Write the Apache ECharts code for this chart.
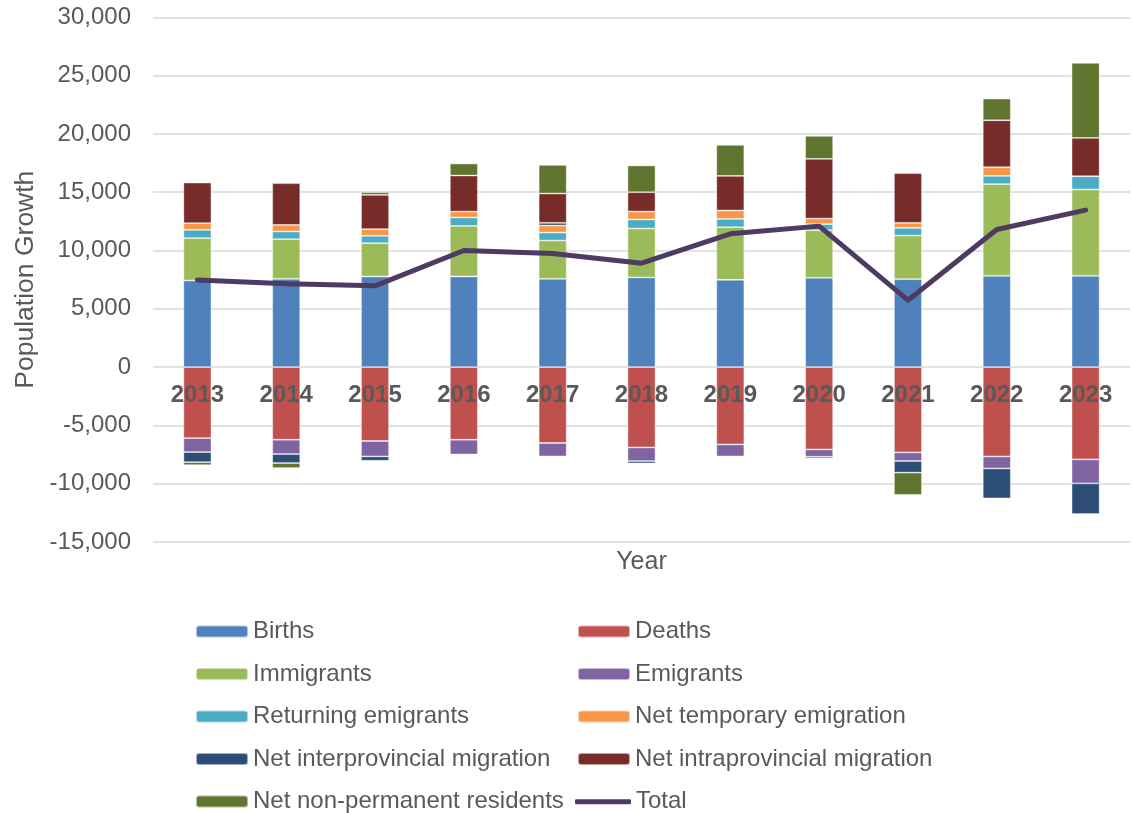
<!DOCTYPE html>
<html>
<head>
<meta charset="utf-8">
<title>Population Growth by Component</title>
<script src="https://cdn.jsdelivr.net/npm/echarts@6/dist/echarts.min.js"></script>
<style>
  html, body { margin: 0; padding: 0; background: #fff; }
  #chart { width: 1132px; height: 813px; }
</style>
</head>
<body>
<div id="chart"></div>
<script>
// Components of population growth, by year
const years = ['2013', '2014', '2015', '2016', '2017', '2018', '2019', '2020', '2021', '2022', '2023'];
const births = [7430, 7570, 7770, 7770, 7570, 7690, 7490, 7660, 7540, 7830, 7830];
const deaths = [-6090, -6230, -6340, -6230, -6510, -6890, -6630, -7060, -7310, -7660, -7910];
const immigrants = [3630, 3400, 2860, 4340, 3290, 4200, 4510, 4080, 3740, 7860, 7400];
const emigrants = [-1200, -1230, -1320, -1260, -1150, -1170, -1030, -630, -740, -1030, -2060];
const returningEmigrants = [710, 660, 630, 720, 680, 770, 710, 520, 660, 710, 1140];
const netTemporaryEmigration = [570, 570, 570, 510, 600, 680, 720, 480, 430, 740, 0];
const netInterprovincial = [-860, -770, -370, 0, 230, -200, 0, -140, -1000, -2570, -2630];
const netIntraprovincial = [3490, 3570, 2940, 3090, 2520, 1660, 2970, 5120, 4260, 4030, 3290];
const netNonPermanent = [-260, -430, 230, 1030, 2450, 2290, 2660, 1970, -1910, 1860, 6430];
const total = [7480, 7140, 6970, 10000, 9740, 8910, 11430, 12090, 5740, 11800, 13460];

const yTicks = { min: -15000, max: 30000, step: 5000 };

const textColor = '#595959';
const font = '"Liberation Sans", Arial, sans-serif';
const totalColor = '#4D3B62';

// Plot box (pixels) and the offset that lifts the year labels up to the zero line
const plotTop = 17.3;
const plotBottom = 271;
const chartHeight = 813;
const zeroShift = (chartHeight - plotBottom - plotTop) * (0 - yTicks.min) / (yTicks.max - yTicks.min);

const barDefs = [
  ['Births', births, '#4F81BD'],
  ['Deaths', deaths, '#C0504D'],
  ['Immigrants', immigrants, '#9BBB59'],
  ['Emigrants', emigrants, '#8064A2'],
  ['Returning emigrants', returningEmigrants, '#4BACC6'],
  ['Net temporary emigration', netTemporaryEmigration, '#F79646'],
  ['Net interprovincial migration', netInterprovincial, '#2C4D75'],
  ['Net intraprovincial migration', netIntraprovincial, '#772C2A'],
  ['Net non-permanent residents', netNonPermanent, '#5F7530']
];

const barSeries = barDefs.map(([name, data, color]) => ({
  name: name,
  type: 'bar',
  stack: 'growth',
  stackStrategy: 'samesign',
  barWidth: 28,
  data: data,
  itemStyle: { color: color, borderColor: 'rgba(255,255,255,0.55)', borderWidth: 0.8 },
  emphasis: { disabled: true },
  z: 2
}));

const lineSeries = {
  name: 'Total',
  type: 'line',
  data: total,
  symbol: 'none',
  lineStyle: { color: totalColor, width: 5, cap: 'round', join: 'round' },
  itemStyle: { color: totalColor },
  emphasis: { disabled: true },
  z: 5
};

// Two legend columns plus a separate entry for the line, so its key can be thin
const legendCommon = {
  orient: 'vertical',
  padding: 0,
  itemWidth: 52,
  itemHeight: 12,
  itemGap: 18.5,
  height: 260,
  textStyle: { color: textColor, fontSize: 24, fontFamily: font, lineHeight: 24 },
  selectedMode: false,
  top: 619.5
};

const option = {
  animation: false,
  backgroundColor: '#fff',
  grid: { left: 153, right: 2, top: plotTop, bottom: plotBottom },
  legend: [
    Object.assign({}, legendCommon, {
      left: 195,
      data: ['Births', 'Immigrants', 'Returning emigrants', 'Net interprovincial migration', 'Net non-permanent residents']
    }),
    Object.assign({}, legendCommon, {
      left: 577,
      data: ['Deaths', 'Emigrants', 'Net temporary emigration', 'Net intraprovincial migration']
    }),
    Object.assign({}, legendCommon, {
      left: 575,
      top: 789.7,
      itemWidth: 56,
      itemHeight: 5,
      icon: 'roundRect',
      itemStyle: { color: totalColor },
      data: ['Total']
    })
  ],
  xAxis: {
    type: 'category',
    data: years,
    z: 10,
    offset: -zeroShift,
    axisLine: { show: false, onZero: false },
    axisTick: { show: false },
    axisLabel: {
      color: textColor,
      fontSize: 24,
      fontWeight: 'bold',
      fontFamily: font,
      margin: 16
    }
  },
  yAxis: {
    type: 'value',
    min: yTicks.min,
    max: yTicks.max,
    interval: yTicks.step,
    name: 'Population Growth',
    nameLocation: 'middle',
    nameRotate: 90,
    nameGap: 112,
    nameTextStyle: { color: textColor, fontSize: 26.5, fontFamily: font },
    axisLine: { show: false },
    axisTick: { show: false },
    axisLabel: {
      color: textColor,
      fontSize: 24,
      fontFamily: font,
      margin: 22,
      formatter: v => v.toLocaleString('en-US')
    },
    splitLine: { lineStyle: { color: '#D9D9D9', width: 1.5 } }
  },
  graphic: [{
    type: 'text',
    x: 641.5,
    y: 562,
    style: {
      text: 'Year',
      fill: textColor,
      fontSize: 25,
      fontFamily: font,
      textAlign: 'center',
      textVerticalAlign: 'middle'
    }
  }],
  series: barSeries.concat([lineSeries])
};

const chart = echarts.init(document.getElementById('chart'), null, { renderer: 'canvas' });
chart.setOption(option);
</script>
</body>
</html>
